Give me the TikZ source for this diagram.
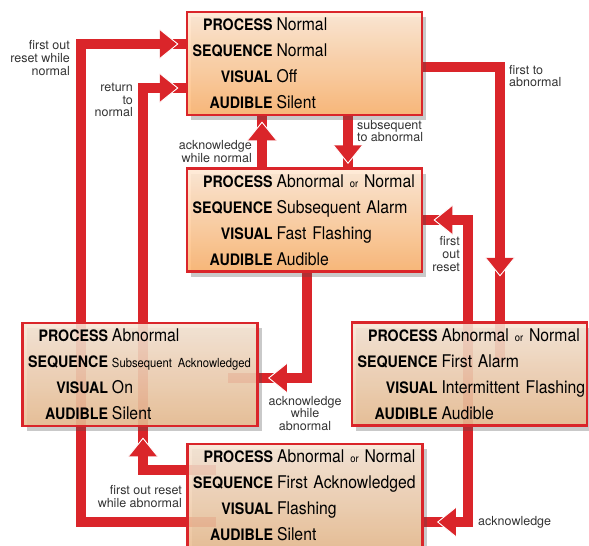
\documentclass[tikz,border=0pt]{standalone}
\usepackage{fontspec}
\setmainfont{TeX Gyre Heros}
\newfontfamily\labfont[FakeStretch=0.9]{TeX Gyre Heros}
\newfontfamily\valfont[FakeStretch=0.9]{TeX Gyre Heros}
\usetikzlibrary{shadows,decorations.markings,backgrounds}

\definecolor{alarmred}{RGB}{218,37,42}
\definecolor{hotTop}{RGB}{255,233,212}
\definecolor{hotBot}{RGB}{253,180,110}
\definecolor{calmTop}{RGB}{247,230,214}
\definecolor{calmBot}{RGB}{234,188,144}

\newcommand{\staterow}[2]{\noindent\makebox[85.5pt][r]{\labfont\bfseries\fontsize{15.8}{26}\selectfont #1}\hspace{4pt}{\valfont\fontsize{17.5}{26}\selectfont #2}}
\newcommand{\smallor}[1]{{\fontsize{10.5}{26}\selectfont #1}}

\begin{document}
\begin{tikzpicture}
				[x=1pt,y=-1pt,
				statebox/.style={draw=alarmred, line width=2.5pt, minimum width=235pt, minimum height=103pt, inner sep=0pt, text width=235pt, align=left, fill opacity=0.88, text opacity=1, drop shadow={shadow xshift=4pt, shadow yshift=-5pt, opacity=0.3, fill=black!70}, font=\fontsize{17.5}{26}\selectfont},
				hot/.style={statebox, top color=hotTop, bottom color=hotBot},
				calm/.style={statebox, top color=calmTop, bottom color=calmBot},
				band/.style={draw=alarmred, line width=10pt, line join=miter, postaction={decorate, decoration={markings, mark=at position #1 with {\fill[alarmred] (-9pt,14.5pt) -- (9pt,0pt) -- (-9pt,-14.5pt) -- cycle; \draw[white, line width=0.9pt] (-9pt,14.5pt) -- (9pt,0pt) -- (-9pt,-14.5pt);}}}},
				band/.default=-16pt,
				remark/.style={font=\fontsize{12.5}{12.8}\selectfont, text=black!80, inner sep=0pt}]
				\useasboundingbox (0,0) rectangle (589,546);

				\node[hot] (normal) at (304.5,63.5) {\staterow{PROCESS}{Normal}\\\staterow{SEQUENCE}{Normal}\\\staterow{VISUAL}{Off}\\\staterow{AUDIBLE}{Silent}};
				\node[hot] (subalarm) at (304.5,220) {\staterow{PROCESS}{Abnormal \smallor{or} Normal}\\\staterow{SEQUENCE}{Subsequent Alarm}\\\staterow{VISUAL}{Fast Flashing}\\\staterow{AUDIBLE}{Audible}};
				\node[calm] (suback) at (140,374.5) {\staterow{PROCESS}{Abnormal}\\\staterow{SEQUENCE}{\fontsize{12.5}{26}\selectfont Subsequent Acknowledged}\\\staterow{VISUAL}{On}\\\staterow{AUDIBLE}{Silent}};
				\node[calm] (firstalarm) at (469.5,374) {\staterow{PROCESS}{Abnormal \smallor{or} Normal}\\\staterow{SEQUENCE}{First Alarm}\\\staterow{VISUAL}{Intermittent Flashing}\\\staterow{AUDIBLE}{Audible}};
				\node[calm] (firstack) at (305,495.5) {\staterow{PROCESS}{Abnormal \smallor{or} Normal}\\\staterow{SEQUENCE}{First Acknowledged}\\\staterow{VISUAL}{Flashing}\\\staterow{AUDIBLE}{Silent}};

				\begin{scope}[on background layer]
				\draw[band=-17pt] ([xshift=30pt,yshift=-26.5pt]firstack.west) -| ([xshift=-105pt,yshift=19.5pt]normal.west) -- ([yshift=19.5pt]normal.west);
				\draw[band=-17pt] ([xshift=3pt]suback.south) |- ([yshift=-24.5pt]normal.west);
				\draw[band=-15pt] ([xshift=-42.5pt]subalarm.north) -- ([xshift=-42.5pt]normal.south);
				\draw[band=-13pt] ([xshift=43.5pt]normal.south) -- ([xshift=43.5pt]subalarm.north);
				\draw[band=-96.5pt] ([yshift=-3.5pt]normal.east) -| ([xshift=30.5pt,yshift=-42pt]firstalarm.north);
				\draw[band=-20pt] ([xshift=-1.5pt]firstalarm.south) |- (subalarm.east);
				\draw[band=-50pt] ([xshift=2.5pt]subalarm.south) |- ([xshift=-31pt,yshift=-3.5pt]suback.east);
				\draw[band=-23pt] ([xshift=-1.5pt]firstalarm.north) |- ([yshift=-26.5pt]firstack.east);
				\draw[band=-20pt] ([xshift=30pt,yshift=25.5pt]firstack.west) -| ([xshift=3pt]suback.south);
				\end{scope}

				\node[remark, anchor=east, align=right] (lbl-fonormal) at (70,58) {first out\\reset while\\normal};
				\node[remark, anchor=east, align=right] (lbl-return) at (133,100) {return\\to\\normal};
				\node[remark, anchor=east, align=right] (lbl-acknormal) at (252,151.5) {acknowledge\\while normal};
				\node[remark, anchor=west, align=left] (lbl-subabn) at (357,131) {subsequent\\to abnormal};
				\node[remark, anchor=west, align=left] (lbl-firstabn) at (509,76) {first to\\abnormal};
				\node[remark, anchor=east, align=right] (lbl-foreset) at (460,254) {first\\out\\reset};
				\node[remark, align=center] (lbl-ackabn) at (305,413.5) {acknowledge\\while\\abnormal};
				\node[remark, anchor=west] (lbl-ack) at (478,522) {acknowledge};
				\node[remark, anchor=east, align=right] (lbl-foabn) at (182,496.5) {first out reset\\while abnormal};
\end{tikzpicture}
\end{document}
